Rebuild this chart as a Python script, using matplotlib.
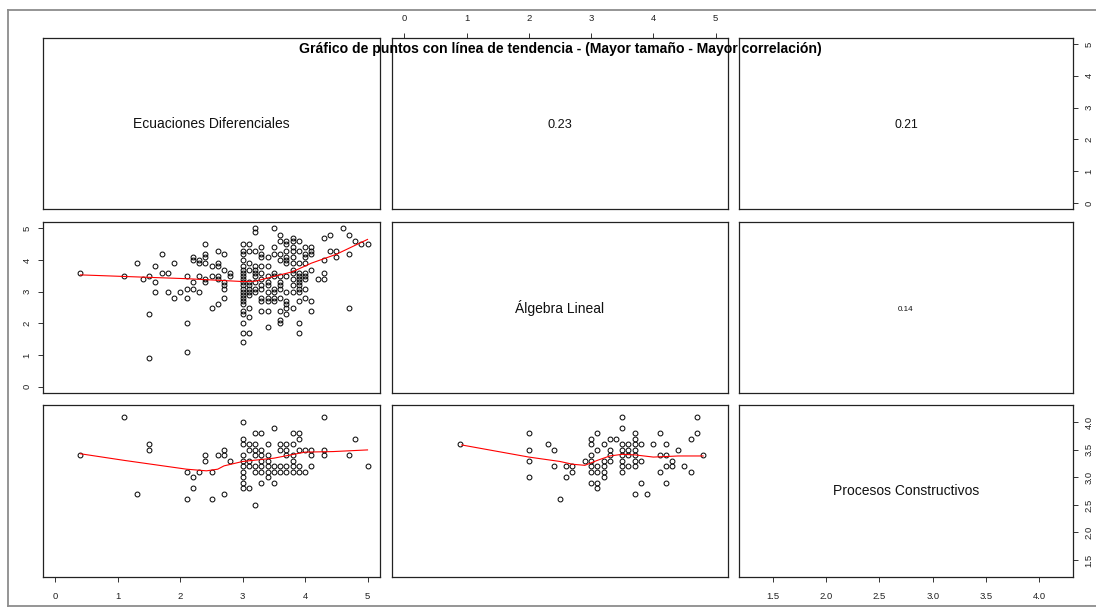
"""Pairs plot (R style): scatter + smooth below the diagonal, correlations above."""
import matplotlib
matplotlib.use("Agg")
import matplotlib.pyplot as plt
from matplotlib.lines import Line2D
import numpy as np

plt.rcParams['font.family'] = ['Liberation Sans', 'DejaVu Sans']

# ---- data ----
var_names = ["Ecuaciones Diferenciales", "Álgebra Lineal", "Procesos Constructivos"]
var_lims = [(-0.2, 5.2), (-0.2, 5.2), (1.184, 4.316)]
var_ticks = [[0, 1, 2, 3, 4, 5], [0, 1, 2, 3, 4, 5], [1.5, 2.0, 2.5, 3.0, 3.5, 4.0]]
var_ticklabels = [["0", "1", "2", "3", "4", "5"], ["0", "1", "2", "3", "4", "5"],
                  ["1.5", "2.0", "2.5", "3.0", "3.5", "4.0"]]

# Ecuaciones (x) vs Álgebra (y): x value of each column, y values in that column
ecu_alg_x = [0.4, 1.1, 1.3, 1.4, 1.5, 1.6, 1.7, 1.8, 1.9, 2.0, 2.1, 2.2, 2.3, 2.4, 2.5, 2.6,
             2.7, 2.8, 3.0, 3.1, 3.2, 3.3, 3.4, 3.5, 3.6, 3.7, 3.8, 3.9, 4.0, 4.1, 4.2, 4.3,
             4.4, 4.5, 4.6, 4.7, 4.8, 4.9, 5.0]
ecu_alg_y = [[3.6], [3.5], [3.9], [3.4], [3.5, 2.3, 0.9], [3.8, 3.3, 3.0], [4.2, 3.6],
             [3.6, 3.0], [3.9, 2.8], [3.0], [3.5, 3.1, 2.8, 2.0, 1.1], [4.1, 4.0, 3.3, 3.1],
             [4.0, 3.9, 3.5, 3.0], [4.5, 4.2, 4.1, 3.9, 3.4, 3.3], [3.8, 3.5, 2.5],
             [4.3, 3.9, 3.8, 3.5, 3.4, 2.6], [4.2, 3.7, 3.3, 3.2, 3.1, 2.8], [3.6, 3.5],
             [4.5, 4.3, 4.2, 4.0, 3.8, 3.7, 3.6, 3.5, 3.4, 3.3, 3.2, 3.1, 3.0, 2.9, 2.8, 2.7,
              2.6, 2.4, 2.3, 2.0, 1.7, 1.4],
             [4.5, 4.3, 3.9, 3.7, 3.3, 3.2, 3.1, 3.0, 2.9, 2.5, 2.2, 1.7],
             [5.0, 4.9, 4.3, 3.8, 3.7, 3.6, 3.5, 3.3, 3.1, 3.0],
             [4.4, 4.2, 4.1, 3.8, 3.6, 3.4, 3.2, 3.1, 2.8, 2.7, 2.4],
             [4.1, 3.8, 3.5, 3.3, 3.2, 3.0, 2.8, 2.7, 2.4, 1.9],
             [5.0, 4.4, 4.2, 3.6, 3.5, 3.1, 3.0, 2.8, 2.7],
             [4.8, 4.6, 4.2, 4.0, 3.5, 3.3, 3.2, 3.1, 2.8, 2.4, 2.1, 2.0],
             [4.6, 4.5, 4.3, 4.1, 4.0, 3.9, 3.5, 3.0, 2.7, 2.6, 2.5, 2.3],
             [4.7, 4.6, 4.4, 4.3, 4.1, 3.9, 3.7, 3.6, 3.4, 3.2, 3.0, 2.5],
             [4.6, 4.3, 3.9, 3.6, 3.5, 3.4, 3.3, 3.2, 3.1, 3.0, 2.7, 2.0, 1.7],
             [4.4, 4.2, 4.1, 3.9, 3.6, 3.5, 3.4, 3.1, 2.8], [4.4, 4.3, 4.2, 3.7, 2.7, 2.4],
             [3.4], [4.7, 4.0, 3.6, 3.4], [4.8, 4.3], [4.3, 4.1], [5.0], [4.8, 4.2, 2.5],
             [4.6], [4.5], [4.5]]
ecu_alg_smooth_x = [0.4, 1.1, 2.1, 3.0, 3.2, 3.5, 3.8, 4.1, 4.5, 5.0]
ecu_alg_smooth_y = [3.53, 3.48, 3.41, 3.32, 3.33, 3.48, 3.63, 3.90, 4.18, 4.65]

# Ecuaciones (x) vs Procesos (y)
ecu_proc_x = [0.4, 1.1, 1.3, 1.5, 2.1, 2.2, 2.3, 2.4, 2.5, 2.6, 2.7, 2.8, 3.0, 3.1, 3.2,
              3.3, 3.4, 3.5, 3.6, 3.7, 3.8, 3.9, 4.0, 4.1, 4.3, 4.7, 4.8, 5.0]
ecu_proc_y = [[3.4], [4.1], [2.7], [3.6, 3.5], [3.1, 2.6], [3.0, 2.8], [3.1], [3.4, 3.3],
              [3.1, 2.6], [3.4], [3.5, 3.4, 2.7], [3.3],
              [4.0, 3.7, 3.6, 3.4, 3.3, 3.2, 3.1, 3.0, 2.9, 2.8], [3.6, 3.5, 3.3, 3.2, 2.8],
              [3.8, 3.6, 3.5, 3.4, 3.2, 3.1, 2.5], [3.8, 3.5, 3.4, 3.3, 3.2, 3.1, 2.9],
              [3.6, 3.4, 3.3, 3.2, 3.1, 3.0], [3.9, 3.2, 3.1, 2.9], [3.6, 3.5, 3.2, 3.1],
              [3.6, 3.5, 3.4, 3.2, 3.1], [3.8, 3.6, 3.4, 3.3, 3.2, 3.1],
              [3.8, 3.7, 3.5, 3.2, 3.1], [3.5, 3.1], [3.5, 3.4, 3.2], [4.1, 3.5, 3.4],
              [3.4], [3.7], [3.2]]
ecu_proc_smooth_x = [0.4, 1.1, 2.1, 2.42, 2.6, 2.7, 3.0, 3.5, 4.0, 4.45, 5.0]
ecu_proc_smooth_y = [3.43, 3.31, 3.15, 3.12, 3.15, 3.21, 3.29, 3.35, 3.46, 3.47, 3.50]

# Álgebra (x) vs Procesos (y)
alg_proc_x = [0.9, 2.0, 2.3, 2.4, 2.5, 2.6, 2.7, 2.9, 3.0, 3.1, 3.2, 3.3, 3.4, 3.5, 3.6,
              3.7, 3.8, 3.9, 4.0, 4.1, 4.2, 4.3, 4.4, 4.5, 4.6, 4.7, 4.8]
alg_proc_y = [[3.6], [3.8, 3.5, 3.3, 3.0], [3.6], [3.5, 3.2], [2.6], [3.2, 3.0], [3.2, 3.1],
              [3.3], [3.7, 3.6, 3.4, 3.3, 3.2, 3.1, 2.9], [3.8, 3.5, 3.2, 3.1, 2.9, 2.8],
              [3.6, 3.3, 3.2, 3.1, 3.0], [3.7, 3.5, 3.4, 3.3], [3.7],
              [4.1, 3.9, 3.6, 3.5, 3.4, 3.3, 3.2, 3.1], [3.6, 3.5, 3.4, 3.2],
              [3.8, 3.7, 3.6, 3.5, 3.4, 3.3, 3.2, 2.7], [3.6, 3.3, 2.9], [2.7], [3.6],
              [3.8, 3.4, 3.1], [3.6, 3.4, 3.2, 2.9], [3.3, 3.2], [3.5], [3.2], [3.7, 3.1],
              [4.1, 3.8], [3.4]]
alg_proc_smooth_x = [0.92, 2.0, 2.5, 2.7, 2.9, 3.1, 3.3, 3.5, 3.7, 4.0, 4.4, 4.8]
alg_proc_smooth_y = [3.59, 3.37, 3.29, 3.24, 3.22, 3.31, 3.39, 3.42, 3.41, 3.37, 3.39, 3.39]

corr_labels = ["0.23", "0.21", "0.14"]
corr_sizes = [9.2, 8.8, 5.8]

title = "Gráfico de puntos con línea de tendencia - (Mayor tamaño - Mayor correlación)"

# ---- layout (pixels of the 1096x608 reference) ----
W, H = 1096, 608
COL_PX = [(43, 380), (392, 728), (739, 1073)]
ROW_PX = [(37.6, 209.4), (222, 393), (405, 577.4)]

fig = plt.figure(figsize=(W / 100, H / 100), dpi=100)
fig.patch.set_facecolor("white")


def panel(row, col):
    x0, x1 = COL_PX[col]
    y0, y1 = ROW_PX[row]
    ax = fig.add_axes([x0 / W, 1 - y1 / H, (x1 - x0) / W, (y1 - y0) / H])
    ax.set_xlim(var_lims[col])
    ax.set_ylim(var_lims[row])
    ax.set_xticks([]); ax.set_yticks([])
    for s in ax.spines.values():
        s.set_linewidth(0.9); s.set_color("#222222")
    ax.tick_params(direction="out", length=3.8, width=0.7, color="#333333",
                   labelsize=6.8, labelcolor="#222222")
    return ax


def style_yticks(ax, row, side):
    ax.set_yticks(var_ticks[row])
    ax.set_yticklabels(var_ticklabels[row], rotation=90, va="center")
    if side == "right":
        ax.yaxis.tick_right()
    ax.tick_params(axis="y", pad=4.5)


def style_xticks(ax, col, side):
    ax.set_xticks(var_ticks[col])
    ax.set_xticklabels(var_ticklabels[col])
    if side == "top":
        ax.xaxis.tick_top()
    ax.tick_params(axis="x", pad=6.5)


scatter_sets = {
    (1, 0): (ecu_alg_x, ecu_alg_y, ecu_alg_smooth_x, ecu_alg_smooth_y),
    (2, 0): (ecu_proc_x, ecu_proc_y, ecu_proc_smooth_x, ecu_proc_smooth_y),
    (2, 1): (alg_proc_x, alg_proc_y, alg_proc_smooth_x, alg_proc_smooth_y),
}
corr_cells = [(0, 1), (0, 2), (1, 2)]

for r in range(3):
    for c in range(3):
        ax = panel(r, c)
        if r == c:
            ax.text(0.5, 0.5, var_names[r], transform=ax.transAxes, ha="center",
                    va="center", fontsize=10, color="#111111")
        elif (r, c) in scatter_sets:
            xs, ys, sx, sy = scatter_sets[(r, c)]
            x = np.repeat(xs, [len(v) for v in ys])
            y = np.concatenate([np.asarray(v, float) for v in ys])
            ax.plot(x, y, ls="none", marker="o", ms=3.5, mfc="none", mec="black", mew=0.7)
            ax.plot(sx, sy, color="red", lw=0.8)
        else:
            k = corr_cells.index((r, c))
            ax.text(0.5, 0.49, corr_labels[k], transform=ax.transAxes, ha="center",
                    va="center", fontsize=corr_sizes[k], color="#111111")
        # outer axes, alternating like R's pairs()
        if r == 0 and c == 1:
            style_xticks(ax, c, "top")
        if r == 2 and c in (0, 2):
            style_xticks(ax, c, "bottom")
        if c == 2 and r in (0, 2):
            style_yticks(ax, r, "right")
        if c == 0 and r == 1:
            style_yticks(ax, r, "left")

fig.text(560 / W, 1 - 48.5 / H, title, ha="center", va="center", fontsize=10.1,
         fontweight="bold", color="black")

# window frame of the original screenshot
frame = dict(color="#8c8c8c", lw=1.3, transform=fig.transFigure)
fig.add_artist(Line2D([8 / W, 1], [1 - 10 / H, 1 - 10 / H], **frame))
fig.add_artist(Line2D([8 / W, 8 / W], [1 - 10 / H, 1 - 606 / H], **frame))
fig.add_artist(Line2D([8 / W, 1], [1 - 606 / H, 1 - 606 / H], **frame))

fig.savefig("out.png", dpi=100)
